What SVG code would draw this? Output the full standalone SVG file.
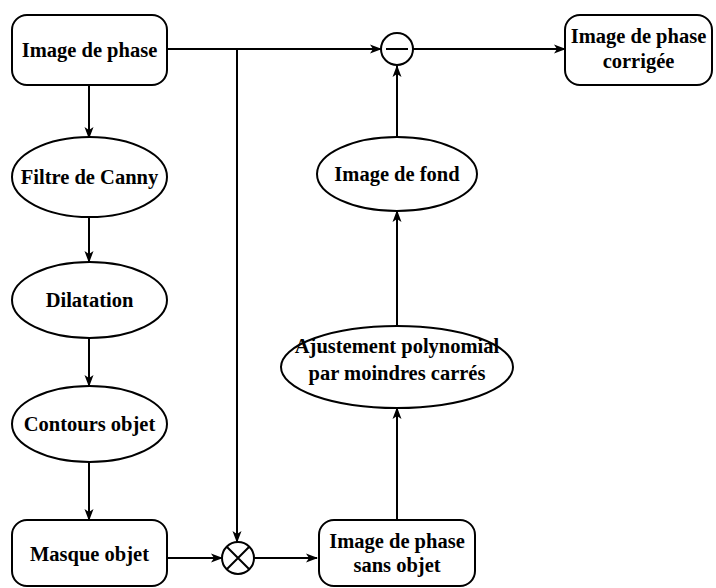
<svg xmlns="http://www.w3.org/2000/svg" width="716" height="588" viewBox="0 0 716 588">
<defs>
<marker id="ar" markerWidth="12" markerHeight="10" refX="11" refY="5" orient="auto" markerUnits="userSpaceOnUse">
<path d="M0,0.5 L12,5 L0,9.5 L3,5 z" fill="#000"/>
</marker>
<style>
.n{fill:#fff;stroke:#000;stroke-width:2}
.t{font-family:"Liberation Serif","Times New Roman",serif;font-weight:bold;font-size:20.5px;text-anchor:middle;fill:#000}
.c{fill:none;stroke:#000;stroke-width:2}
.a{fill:none;stroke:#000;stroke-width:2;marker-end:url(#ar)}
</style>
</defs>
<rect width="716" height="588" fill="#fff"/>
<g id="connectors">
<line class="c" x1="167" y1="49" x2="237" y2="49"/>
<line class="a" x1="237" y1="49" x2="381" y2="49"/>
<line class="a" x1="237" y1="49" x2="237" y2="542"/>
<line class="a" x1="413" y1="49" x2="565" y2="49"/>
<line class="a" x1="89" y1="85" x2="89" y2="138"/>
<line class="a" x1="89" y1="216" x2="89" y2="262"/>
<line class="a" x1="89" y1="338" x2="89" y2="386"/>
<line class="a" x1="89" y1="462" x2="89" y2="520"/>
<line class="a" x1="167" y1="558" x2="222" y2="558"/>
<line class="a" x1="254" y1="558" x2="317" y2="558"/>
<line class="a" x1="397" y1="520" x2="397" y2="408"/>
<line class="a" x1="397" y1="326" x2="397" y2="211"/>
<line class="a" x1="397" y1="137" x2="397" y2="66"/>
</g>
<g id="n-phase">
<rect class="n" x="12" y="15" width="155" height="70" rx="15"/>
<text class="t" x="89.5" y="57">Image de phase</text>
</g>
<g id="n-canny">
<ellipse class="n" cx="89.5" cy="177" rx="77.5" ry="40"/>
<text class="t" x="89.5" y="184">Filtre de Canny</text>
</g>
<g id="n-dilat">
<ellipse class="n" cx="89.5" cy="300" rx="77.5" ry="38"/>
<text class="t" x="89.5" y="307">Dilatation</text>
</g>
<g id="n-contours">
<ellipse class="n" cx="89.5" cy="424" rx="77.5" ry="38"/>
<text class="t" x="89.5" y="431">Contours objet</text>
</g>
<g id="n-masque">
<rect class="n" x="12" y="520" width="155" height="66" rx="15"/>
<text class="t" x="89.5" y="561">Masque objet</text>
</g>
<g id="n-mult">
<circle class="n" cx="238" cy="558" r="16"/>
<path class="c" d="M227,547 L249,569 M249,547 L227,569"/>
</g>
<g id="n-sans">
<rect class="n" x="319" y="520" width="156" height="66" rx="15"/>
<text class="t" x="397" y="548">Image de phase</text>
<text class="t" x="397" y="572">sans objet</text>
</g>
<g id="n-ajust">
<ellipse class="n" cx="397" cy="367" rx="116" ry="41"/>
<text class="t" x="397" y="353">Ajustement polynomial</text>
<text class="t" x="397" y="380">par moindres carrés</text>
</g>
<g id="n-fond">
<ellipse class="n" cx="397" cy="174" rx="80" ry="37"/>
<text class="t" x="397" y="181">Image de fond</text>
</g>
<g id="n-minus">
<circle class="n" cx="397" cy="49" r="16"/>
<line class="c" x1="386" y1="49" x2="408" y2="49"/>
</g>
<g id="n-corrigee">
<rect class="n" x="565" y="15" width="147" height="70" rx="15"/>
<text class="t" x="638.5" y="43">Image de phase</text>
<text class="t" x="638.5" y="68">corrigée</text>
</g>
</svg>
